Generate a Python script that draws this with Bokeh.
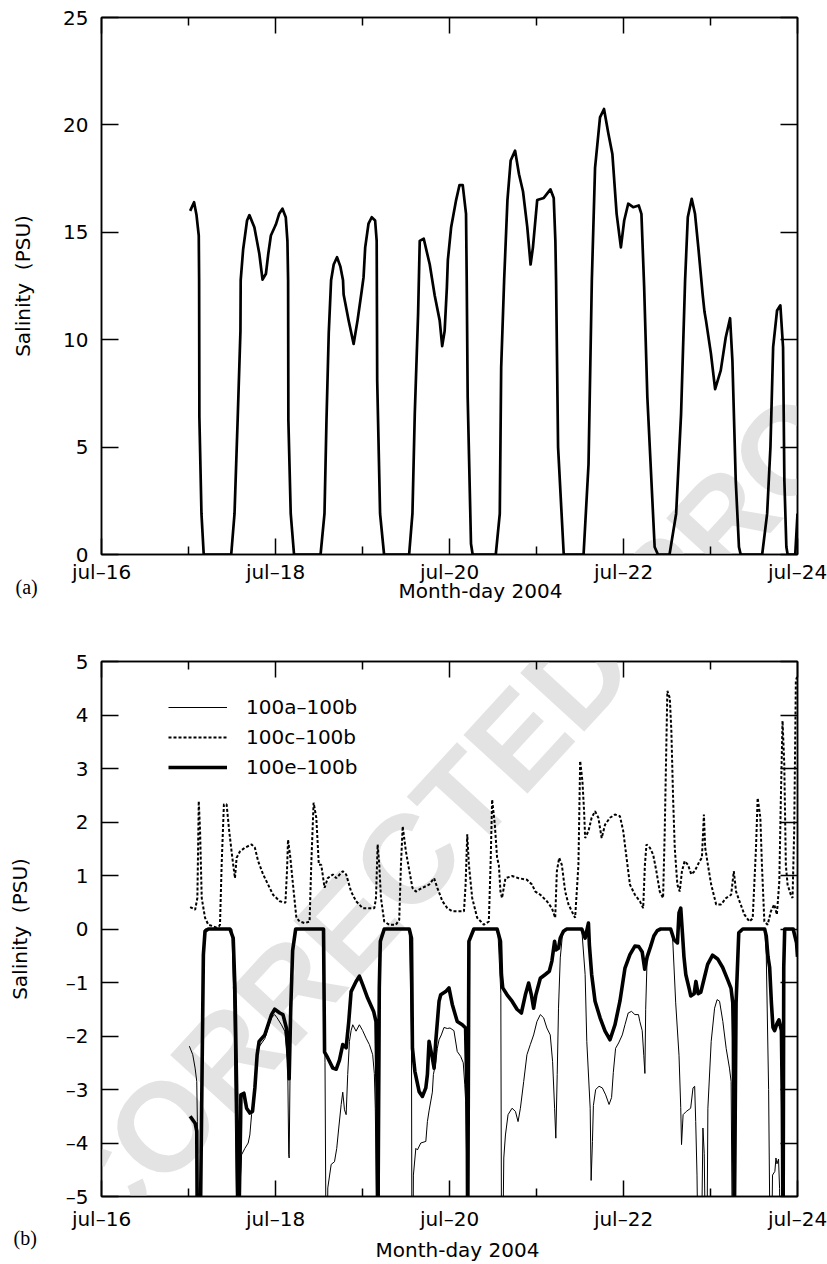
from bokeh.plotting import figure
from bokeh.models import Range1d, FixedTicker, LinearAxis, Legend, LegendItem, Title, Label
from bokeh.layouts import column
from bokeh.embed import file_html
from bokeh.resources import INLINE

FONT = "DejaVu Sans"
SERIF = "Liberation Serif"

# ---------------- data ----------------
x_ticks = [0, 2, 4, 6, 8]
x_minor = [1, 3, 5, 7]
x_tick_labels = ["jul–16", "jul–18", "jul–20", "jul–22", "jul–24"]
top_y_ticks = [0, 5, 10, 15, 20, 25]
top_y_labels = ["0", "5", "10", "15", "20", "25"]
bot_y_ticks = [-5, -4, -3, -2, -1, 0, 1, 2, 3, 4, 5]
bot_y_labels = ["–5", "–4", "–3", "–2", "–1", "0", "1", "2", "3", "4", "5"]
series_names = ["100a–100b", "100c–100b", "100e–100b"]
x_title = "Month-day 2004"
y_title = "Salinity\u00a0 (PSU)"
panel_tags = ["(a)", "(b)"]
watermark = "UNCORRECTED PROOF"

# panel (a): days since jul-16, salinity (PSU)
top_day = [1.019, 1.064, 1.092, 1.118, 1.122, 1.125, 1.149, 1.175, 1.491, 1.529,
           1.566, 1.597, 1.600, 1.628, 1.673, 1.700, 1.757, 1.814, 1.851, 1.890,
           1.917, 1.947, 2.004, 2.042, 2.080, 2.118, 2.137, 2.145, 2.148, 2.175,
           2.213, 2.518, 2.563, 2.586, 2.612, 2.639, 2.669, 2.707, 2.746, 2.776,
           2.783, 2.840, 2.898, 2.943, 2.992, 3.012, 3.031, 3.069, 3.106, 3.145,
           3.163, 3.169, 3.202, 3.248, 3.536, 3.574, 3.601, 3.639, 3.658, 3.704,
           3.773, 3.830, 3.887, 3.916, 3.944, 3.970, 3.981, 4.019, 4.076, 4.115,
           4.152, 4.190, 4.198, 4.209, 4.247, 4.266, 4.532, 4.578, 4.594, 4.628,
           4.666, 4.703, 4.754, 4.799, 4.845, 4.894, 4.932, 4.959, 5.008, 5.084,
           5.160, 5.198, 5.217, 5.225, 5.248, 5.313, 5.541, 5.598, 5.636, 5.673,
           5.730, 5.776, 5.826, 5.872, 5.921, 5.970, 6.008, 6.054, 6.111, 6.175,
           6.206, 6.237, 6.274, 6.358, 6.396, 6.529, 6.605, 6.662, 6.708, 6.739,
           6.784, 6.822, 6.860, 6.910, 6.931, 6.948, 7.005, 7.053, 7.118, 7.175,
           7.225, 7.252, 7.290, 7.327, 7.347, 7.594, 7.651, 7.689, 7.720, 7.765,
           7.803, 7.834, 7.849, 7.872, 7.887, 7.974, 8.0]
top_sal = [16.0, 16.4, 15.8, 14.85, 12.8, 6.4, 1.9, 0, 0, 1.9,
           6.4, 10.4, 12.77, 14.2, 15.55, 15.8, 15.24, 14.0, 12.8, 13.07,
           14.0, 14.85, 15.36, 15.86, 16.1, 15.7, 14.6, 12.77, 6.25, 1.9,
           0, 0, 1.9, 6.25, 10.3, 12.77, 13.5, 13.84, 13.4, 12.77,
           12.1, 10.9, 9.8, 10.9, 12.3, 12.9, 14.3, 15.4, 15.7, 15.55,
           14.6, 8.1, 1.9, 0, 0, 1.9, 6.56, 11.2, 14.6, 14.7,
           13.5, 12.06, 10.9, 9.7, 10.4, 12.45, 13.7, 15.24, 16.5, 17.2,
           17.2, 15.86, 12.77, 7.33, 0.5, 0, 0, 1.9, 8.7, 12.77,
           16.5, 18.34, 18.8, 17.7, 16.9, 15.24, 13.5, 14.3, 16.5, 16.6,
           17.0, 16.6, 14.6, 12.77, 5.0, 0, 0, 4.2, 12.77, 18.0,
           20.35, 20.74, 19.6, 18.65, 15.86, 14.3, 15.55, 16.33, 16.17, 16.25,
           15.86, 12.5, 7.33, 0.35, 0, 0, 1.9, 6.56, 12.77, 15.7,
           16.56, 15.86, 14.3, 12.1, 11.3, 10.9, 9.35, 7.7, 8.57, 10.1,
           11.0, 9.0, 3.46, 0.35, 0, 0, 1.9, 5.0, 9.65, 11.36,
           11.6, 9.65, 3.46, 0.35, 0, 0, 1.9]

# panel (b): (day, salinity difference) pairs per series
diff_a = [(1.010, -2.19), (1.049, -2.35), (1.076, -2.6), (1.095, -2.85), (1.102, -3.6), (1.108, -6),
          (1.139, -6), (1.171, -0.48), (1.190, 0), (1.499, 0), (1.522, -1.5), (1.557, -6), (1.585, -6),
          (1.591, -4.84), (1.610, -4.22), (1.648, -4.1), (1.686, -4.0), (1.705, -3.85), (1.725, -3.47),
          (1.751, -3.1), (1.789, -2.35), (1.812, -2.2), (1.877, -2.05), (1.915, -1.85), (1.954, -1.66),
          (1.991, -1.6), (2.018, -1.66), (2.068, -1.79), (2.106, -1.91), (2.125, -2.2), (2.140, -2.5),
          (2.152, -4.22), (2.157, -4.28), (2.175, -1.5), (2.197, -0.4), (2.232, 0), (2.552, 0),
          (2.569, -2.5), (2.581, -6), (2.596, -6), (2.601, -4.84), (2.640, -4.4), (2.678, -4.35),
          (2.704, -4.1), (2.727, -3.72), (2.755, -3.28), (2.773, -3.05), (2.793, -3.38), (2.812, -3.47),
          (2.830, -2.72), (2.850, -2.1), (2.869, -1.9), (2.888, -1.79), (2.926, -1.91), (2.964, -1.79),
          (3.002, -1.9), (3.041, -2.04), (3.079, -2.16), (3.117, -2.35), (3.136, -2.7), (3.147, -3.35),
          (3.159, -4.84), (3.168, -6), (3.191, -6), (3.199, -1.0), (3.205, -0.23), (3.250, 0),
          (3.537, 0), (3.563, -2), (3.568, -6), (3.580, -6), (3.585, -4.6), (3.613, -4.1), (3.631, -4.13),
          (3.670, -4.0), (3.728, -3.97), (3.746, -3.6), (3.765, -3.4), (3.803, -3.05), (3.815, -2.72),
          (3.842, -2.5), (3.860, -2.23), (3.880, -2.07), (3.906, -1.98), (3.937, -1.84), (3.975, -1.86),
          (4.006, -1.85), (4.051, -1.9), (4.089, -2.29), (4.128, -2.38), (4.158, -2.5), (4.175, -2.9),
          (4.185, -3.2), (4.196, -4.22), (4.204, -6), (4.217, -6), (4.223, -0.23), (4.280, 0),
          (4.555, 0), (4.590, -1.2), (4.598, -6), (4.612, -6), (4.624, -4.28), (4.643, -3.85),
          (4.673, -3.47), (4.719, -3.35), (4.758, -3.41), (4.788, -3.6), (4.815, -3.35), (4.853, -2.85),
          (4.890, -2.35), (4.929, -2.16), (4.967, -1.98), (5.005, -1.73), (5.044, -1.6), (5.082, -1.66),
          (5.119, -1.85), (5.158, -1.98), (5.185, -2.48), (5.208, -3.35), (5.222, -3.91), (5.238, -2.72),
          (5.253, -1.48), (5.273, -0.54), (5.299, -0.1), (5.322, 0), (5.520, 0), (5.559, -0.85),
          (5.578, -2.1), (5.617, -3.35), (5.628, -4.7), (5.643, -3.97), (5.654, -3.3), (5.680, -3.0),
          (5.719, -2.94), (5.757, -2.97), (5.795, -3.1), (5.834, -3.28), (5.863, -3.15), (5.883, -2.68),
          (5.909, -2.23), (5.944, -2.13), (5.986, -1.98), (6.017, -1.79), (6.054, -1.57), (6.092, -1.54),
          (6.131, -1.6), (6.172, -1.6), (6.188, -1.73), (6.215, -1.9), (6.233, -2.36), (6.246, -2.7),
          (6.255, -1.5), (6.272, -0.52), (6.311, -0.33), (6.349, -0.13), (6.388, -0.03), (6.427, 0),
          (6.547, 0), (6.562, -0.07), (6.600, -1.38), (6.638, -2.36), (6.658, -3.34), (6.667, -4.03),
          (6.685, -3.47), (6.722, -3.41), (6.772, -3.35), (6.799, -2.97), (6.818, -2.94), (6.830, -3.6),
          (6.845, -4.6), (6.856, -6), (6.896, -6), (6.913, -3.72), (6.928, -4.2), (6.942, -6),
          (6.959, -6), (6.970, -3.35), (7.008, -2.1), (7.047, -1.48), (7.076, -1.32), (7.104, -1.35),
          (7.142, -1.73), (7.180, -2.23), (7.218, -2.6), (7.237, -2.85), (7.251, -6), (7.285, -6),
          (7.294, -1.38), (7.325, -0.07), (7.371, 0), (7.622, 0), (7.641, -0.5), (7.668, -3),
          (7.685, -6), (7.702, -6), (7.713, -4.6), (7.740, -4.53), (7.752, -4.28), (7.764, -4.39),
          (7.782, -4.3), (7.794, -4.85), (7.800, -6), (7.834, -6), (7.842, -0.72), (7.853, 0),
          (7.950, 0), (7.989, -0.26), (8.0, -0.52)]

diff_c = [(1.019, 0.41), (1.076, 0.36), (1.102, 0.58), (1.118, 2.39), (1.133, 1.83), (1.152, 0.58),
          (1.190, 0.21), (1.228, 0.08), (1.285, 0.05), (1.316, 0.03), (1.350, 0.05), (1.362, 0.08),
          (1.381, 1.2), (1.407, 2.33), (1.438, 2.33), (1.468, 1.83), (1.495, 1.45), (1.514, 1.2),
          (1.534, 0.95), (1.553, 1.33), (1.591, 1.45), (1.648, 1.52), (1.725, 1.58), (1.763, 1.52),
          (1.800, 1.27), (1.858, 1.02), (1.915, 0.83), (1.972, 0.64), (2.049, 0.52), (2.114, 0.49),
          (2.132, 1.08), (2.144, 1.67), (2.171, 1.33), (2.201, 0.83), (2.240, 0.21), (2.278, 0.14),
          (2.335, 0.11), (2.392, 0.14), (2.411, 1.2), (2.438, 2.36), (2.469, 2.08), (2.498, 1.2),
          (2.526, 1.2), (2.564, 0.77), (2.601, 0.95), (2.659, 1.02), (2.698, 0.95), (2.773, 1.08),
          (2.812, 1.02), (2.869, 0.7), (2.926, 0.52), (3.002, 0.39), (3.079, 0.39), (3.136, 0.39),
          (3.155, 0.58), (3.174, 1.58), (3.193, 1.2), (3.212, 0.58), (3.250, 0.14), (3.307, 0.08),
          (3.384, 0.08), (3.422, 0.17), (3.442, 1.2), (3.462, 1.92), (3.499, 1.45), (3.537, 1.1),
          (3.574, 0.77), (3.613, 0.7), (3.689, 0.77), (3.765, 0.83), (3.823, 0.95), (3.860, 0.77),
          (3.918, 0.52), (3.975, 0.39), (4.032, 0.33), (4.109, 0.33), (4.166, 0.33), (4.185, 0.83),
          (4.204, 1.77), (4.223, 1.2), (4.261, 0.58), (4.318, 0.21), (4.395, 0.08), (4.452, 0.14),
          (4.472, 1.2), (4.490, 2.42), (4.521, 1.95), (4.547, 1.33), (4.567, 1.2), (4.586, 0.7),
          (4.604, 0.58), (4.643, 0.95), (4.719, 0.99), (4.795, 0.95), (4.890, 0.92), (4.948, 0.83),
          (4.987, 0.7), (5.044, 0.64), (5.119, 0.52), (5.177, 0.39), (5.215, 0.21), (5.234, 1.08),
          (5.261, 1.33), (5.291, 1.2), (5.330, 0.7), (5.368, 0.46), (5.406, 0.33), (5.444, 0.21),
          (5.482, 1.2), (5.502, 3.14), (5.528, 2.76), (5.547, 2.2), (5.559, 1.7), (5.597, 1.83),
          (5.634, 2.08), (5.673, 2.2), (5.711, 2.08), (5.749, 1.7), (5.788, 1.95), (5.845, 2.08),
          (5.902, 2.14), (5.959, 2.11), (5.997, 1.83), (6.035, 1.33), (6.074, 0.83), (6.131, 0.64),
          (6.188, 0.52), (6.226, 0.39), (6.246, 1.2), (6.264, 1.58), (6.303, 1.52), (6.341, 1.39),
          (6.378, 1.08), (6.417, 0.7), (6.455, 0.58), (6.474, 1.83), (6.504, 4.45), (6.532, 4.32),
          (6.550, 3.7), (6.570, 2.45), (6.589, 1.52), (6.619, 0.83), (6.646, 0.7), (6.672, 1.08),
          (6.703, 1.27), (6.741, 1.2), (6.779, 1.02), (6.818, 1.08), (6.875, 1.27), (6.901, 1.33),
          (6.924, 2.14), (6.939, 1.52), (6.970, 1.2), (7.008, 0.83), (7.065, 0.46), (7.122, 0.46),
          (7.180, 0.58), (7.237, 0.64), (7.268, 1.08), (7.294, 0.7), (7.333, 0.52), (7.390, 0.27),
          (7.447, 0.14), (7.485, 0.2), (7.523, 1.52), (7.542, 2.45), (7.573, 2.08), (7.591, 1.2),
          (7.619, 0.14), (7.657, 0.08), (7.694, 0.33), (7.733, 0.46), (7.763, 0.27), (7.791, 0.89),
          (7.809, 2.45), (7.828, 3.89), (7.848, 3.08), (7.866, 1.2), (7.886, 0.83), (7.923, 0.64),
          (7.943, 0.58), (7.962, 1.83), (7.981, 4.64), (7.992, 4.7), (8.0, 4.7)]

diff_e = [(1.019, -3.5), (1.076, -3.63), (1.095, -3.78), (1.102, -6), (1.133, -6), (1.171, -0.48),
          (1.190, -0.04), (1.228, 0), (1.476, 0), (1.514, -0.17), (1.534, -1.1), (1.553, -2.97),
          (1.574, -6), (1.599, -3.6), (1.602, -3.1), (1.637, -3.07), (1.668, -3.35), (1.705, -3.44),
          (1.736, -3.41), (1.763, -2.97), (1.789, -2.35), (1.812, -2.1), (1.877, -1.98), (1.915, -1.79),
          (1.954, -1.6), (1.991, -1.5), (2.049, -1.57), (2.086, -1.6), (2.125, -1.85), (2.144, -2.35),
          (2.157, -2.8), (2.175, -1.5), (2.197, -0.4), (2.232, 0), (2.552, 0), (2.564, -2.3),
          (2.601, -2.41), (2.659, -2.6), (2.698, -2.62), (2.735, -2.45), (2.773, -2.16), (2.812, -2.22),
          (2.842, -1.73), (2.869, -1.17), (2.926, -0.98), (2.964, -0.88), (3.002, -1.04), (3.059, -1.29),
          (3.128, -1.54), (3.155, -1.73), (3.167, -2.97), (3.176, -6), (3.193, -1.1), (3.205, -0.23),
          (3.250, 0), (3.537, 0), (3.563, -0.17), (3.574, -2.23), (3.602, -2.66), (3.651, -3.04),
          (3.689, -3.13), (3.728, -2.97), (3.746, -2.72), (3.765, -2.1), (3.803, -2.41), (3.823, -2.6),
          (3.842, -2.1), (3.880, -1.35), (3.899, -1.23), (3.956, -1.17), (3.994, -1.1), (4.032, -1.41),
          (4.089, -1.73), (4.147, -1.79), (4.185, -1.85), (4.204, -3.35), (4.209, -6), (4.223, -0.23),
          (4.280, 0), (4.547, 0), (4.586, -0.23), (4.597, -0.85), (4.612, -1.1), (4.662, -1.23),
          (4.719, -1.35), (4.776, -1.5), (4.826, -1.57), (4.872, -1.23), (4.910, -1.01), (4.941, -1.23),
          (4.967, -1.48), (4.993, -1.23), (5.044, -0.92), (5.101, -0.85), (5.147, -0.79), (5.177, -0.6),
          (5.208, -0.23), (5.222, -0.39), (5.253, -0.36), (5.273, -0.17), (5.310, -0.04), (5.348, 0),
          (5.520, 0), (5.559, -0.17), (5.597, 0.11), (5.608, -0.3), (5.634, -0.85), (5.673, -1.35),
          (5.731, -1.66), (5.788, -1.91), (5.845, -2.07), (5.902, -1.79), (5.959, -1.35), (6.017, -0.73),
          (6.074, -0.48), (6.131, -0.32), (6.176, -0.33), (6.215, -0.43), (6.244, -0.75), (6.272, -0.52),
          (6.311, -0.33), (6.349, -0.13), (6.388, -0.03), (6.427, 0), (6.542, 0), (6.581, -0.2),
          (6.620, -0.26), (6.638, 0.3), (6.658, 0.39), (6.677, -0.07), (6.695, -0.52), (6.716, -0.85),
          (6.754, -1.11), (6.773, -1.25), (6.812, -1.21), (6.832, -0.98), (6.858, -1.21), (6.889, -1.18),
          (6.928, -0.92), (6.967, -0.66), (7.024, -0.49), (7.082, -0.56), (7.140, -0.72), (7.198, -0.95),
          (7.236, -1.11), (7.256, -1.38), (7.263, -2.03), (7.272, -6), (7.294, -1.38), (7.325, -0.07),
          (7.371, 0), (7.622, 0), (7.641, -0.13), (7.661, -0.52), (7.680, -0.72), (7.700, -1.38),
          (7.718, -1.84), (7.737, -1.9), (7.764, -1.77), (7.787, -1.7), (7.815, -1.9), (7.826, -3.34),
          (7.834, -6), (7.842, -0.72), (7.853, 0), (7.950, 0), (7.989, -0.26), (8.0, -0.52)]


# ---------------- styling helpers ----------------
def style_axis(ax, ticks, minor, labels, major_len, minor_len, show):
    ax.ticker = FixedTicker(ticks=ticks, minor_ticks=minor)
    ax.major_tick_in = major_len
    ax.major_tick_out = 0
    ax.minor_tick_in = minor_len
    ax.minor_tick_out = 0
    ax.axis_line_color = "black"
    ax.axis_line_width = 1.5
    ax.major_tick_line_color = "black"
    ax.major_tick_line_width = 1.5
    ax.minor_tick_line_color = "black"
    ax.minor_tick_line_width = 1.5
    if show:
        ax.major_label_overrides = {float(t): l for t, l in zip(ticks, labels)}
        ax.major_label_text_font = FONT
        ax.major_label_text_font_size = "20px"
        ax.major_label_text_color = "black"
    else:
        ax.major_label_overrides = {float(t): "" for t in ticks}
        ax.major_label_text_font_size = "1px"
        ax.major_label_standoff = 0
        ax.axis_label_standoff = 0


def make_fig(h, y0, y1, yticks, ylabels, left, right, top, bottom, ylab_standoff, xlab_standoff):
    p = figure(width=827, height=h, x_range=Range1d(0, 8), y_range=Range1d(y0, y1),
               output_backend="svg", toolbar_location=None,
               min_border_left=left, min_border_right=right,
               min_border_top=top, min_border_bottom=bottom)
    p.grid.visible = False
    p.outline_line_color = "black"
    p.outline_line_width = 1.5
    ax_b = p.below[0]
    ax_l = p.left[0]
    ax_t = LinearAxis()
    ax_r = LinearAxis()
    p.add_layout(ax_t, "above")
    p.add_layout(ax_r, "right")
    style_axis(ax_b, x_ticks, x_minor, x_tick_labels, 16, 8, True)
    ax_b.major_label_standoff = xlab_standoff
    style_axis(ax_t, x_ticks, x_minor, x_tick_labels, 16, 8, False)
    style_axis(ax_l, yticks, [], ylabels, 17, 0, True)
    ax_l.major_label_standoff = 13
    style_axis(ax_r, yticks, [], ylabels, 17, 0, False)
    ax_l.axis_label = y_title
    ax_l.axis_label_text_font = FONT
    ax_l.axis_label_text_font_size = "20px"
    ax_l.axis_label_text_font_style = "normal"
    ax_l.axis_label_text_color = "black"
    ax_l.axis_label_standoff = ylab_standoff
    return p


def add_captions(p, tag, tag_offset, tag_standoff, title_offset, title_standoff):
    # panel tag, nearest the axis
    p.add_layout(Title(text=tag, align="left", offset=tag_offset, standoff=tag_standoff,
                       vertical_align="bottom", text_font=SERIF, text_font_size="20px",
                       text_font_style="normal", text_color="black"), "below")
    # x-axis title
    p.add_layout(Title(text=x_title, align="left", offset=title_offset, standoff=title_standoff,
                       vertical_align="bottom", text_font=FONT, text_font_size="20px",
                       text_font_style="normal", text_color="black"), "below")


def add_watermark(p, x, y):
    # same page position in both panels; each panel shows the part inside its frame
    p.add_layout(Label(x=x, y=y, text=watermark, angle=0.829, text_align="center",
                       text_baseline="middle", text_font="Liberation Sans",
                       text_font_style="bold", text_font_size="126px",
                       text_color="#e3e3e3", level="underlay"))


# ---------------- panel (a) ----------------
p1 = make_fig(640, 0, 25, top_y_ticks, top_y_labels, 96, 30, 17, 86, 25, 5)
add_watermark(p1, 3.937, -12.57)
p1.line(top_day, top_sal, line_width=2.7, color="black", line_join="round")
add_captions(p1, panel_tags[0], -86, -23.6, 297, -19.2)

# ---------------- panel (b) ----------------
p2 = make_fig(624, -5, 5, bot_y_ticks, bot_y_labels, 101, 27, 21, 68, 31, 10)
add_watermark(p2, 3.891, 1.953)
a_day, a_val = zip(*diff_a)
c_day, c_val = zip(*diff_c)
e_day, e_val = zip(*diff_e)
r_a = p2.line(list(a_day), list(a_val), line_width=1, color="black", line_join="round")
r_c = p2.line(list(c_day), list(c_val), line_width=2, color="black", line_dash="3 2")
r_e = p2.line(list(e_day), list(e_val), line_width=3.6, color="black", line_join="round")

legend = Legend(items=[LegendItem(label=series_names[0], renderers=[r_a]),
                       LegendItem(label=series_names[1], renderers=[r_c]),
                       LegendItem(label=series_names[2], renderers=[r_e])],
                location=(67, 414), orientation="vertical",
                glyph_width=59, glyph_height=30, label_height=30, label_standoff=19,
                spacing=0, padding=0, margin=0,
                border_line_alpha=0, background_fill_alpha=0,
                label_text_font=FONT, label_text_font_size="20px", label_text_color="black")
p2.add_layout(legend)
add_captions(p2, panel_tags[1], -88, -18.2, 274, -5.6)

layout = column(p1, p2)
open("out.html", "w").write(file_html(layout, INLINE))
